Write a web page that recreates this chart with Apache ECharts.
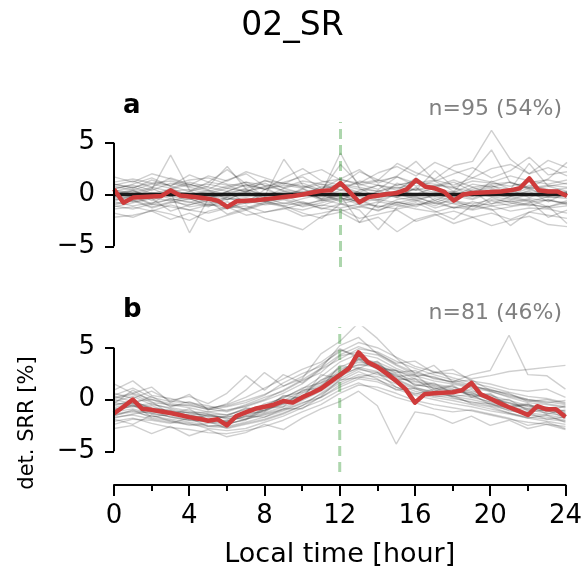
<!DOCTYPE html>
<html>
<head>
<meta charset="utf-8">
<script src="https://cdn.jsdelivr.net/npm/echarts@6/dist/echarts.min.js"></script>
<style>html,body{margin:0;padding:0;background:#fff}#c{width:585px;height:572px}</style>
</head>
<body>
<div id="c"></div>
<script>
// ---------- data ----------
const hoursHourly = [0,1,2,3,4,5,6,7,8,9,10,11,12,13,14,15,16,17,18,19,20,21,22,23,24];
const hoursHalf = [0,0.5,1,1.5,2,2.5,3,3.5,4,4.5,5,5.5,6,6.5,7,7.5,8,8.5,9,9.5,10,10.5,11,11.5,12,12.5,13,13.5,14,14.5,15,15.5,16,16.5,17,17.5,18,18.5,19,19.5,20,20.5,21,21.5,22,22.5,23,23.5,24];
const xTicks = [0,4,8,12,16,20,24];
const yTicks = [-5,0,5];
const noonLine = 12;
const panelA = {label:'a', note:'n=95 (54%)'};
const panelB = {label:'b', note:'n=81 (46%)'};

// mean (red) lines
const meanA = [0.5,-0.8,-0.3,-0.25,-0.2,-0.15,0.4,-0.1,-0.2,-0.3,-0.4,-0.6,-1.2,-0.65,-0.6,-0.55,-0.45,-0.35,-0.25,-0.15,0,0.2,0.35,0.4,1.1,0.2,-0.75,-0.25,-0.1,0.05,0.15,0.5,1.4,0.75,0.6,0.25,-0.6,0,0.15,0.2,0.25,0.3,0.4,0.6,1.55,0.4,0.3,0.3,-0.15];
const meanB = [-1.35,-0.7,0,-0.9,-1.0,-1.15,-1.3,-1.5,-1.7,-1.85,-2.05,-1.9,-2.5,-1.6,-1.25,-0.9,-0.7,-0.5,-0.15,-0.3,0.2,0.6,1.05,1.7,2.35,3.0,4.55,3.6,3.15,2.5,1.8,1.0,-0.3,0.5,0.6,0.65,0.7,0.9,1.6,0.5,0.1,-0.35,-0.75,-1.1,-1.5,-0.65,-0.95,-0.95,-1.7];
// flat stations (panel a)
const flatA = [0,0,0,0,0,0,0,0,0,0,0,0,0,0,0,0,0,0,0,0,0,0,0,0,0];

// individual stations (hourly)
const a01=[0.6,0.9,0.4,1.1,0.7,0.3,0.8,1.2,0.5,0.9,0.6,1.0,0.4,1.3,0.9,0.6,1.1,0.8,1.4,0.7,1.0,1.2,0.6,0.9,0.7];
const a02=[-0.7,-1.1,-0.8,-0.5,-1.2,-0.9,-1.4,-0.6,-1.0,-0.8,-1.1,-0.5,-0.9,-1.2,-0.7,-1.0,-0.6,-1.3,-0.8,-1.1,-0.9,-0.6,-1.0,-1.2,-0.8];
const a03=[1.2,1.5,1.1,0.9,1.4,1.6,1.0,0.8,1.3,1.1,0.7,1.2,1.5,0.9,1.3,1.7,1.1,1.4,0.9,1.6,1.2,1.8,1.3,1.0,1.4];
const a04=[-1.4,-1.2,-1.6,-1.0,-1.5,-1.8,-1.3,-1.1,-1.7,-1.4,-0.9,-1.3,-1.6,-1.2,-1.5,-1.0,-1.4,-1.7,-1.2,-1.5,-1.1,-1.6,-1.3,-1.4,-1.8];
const a05=[0.2,-0.3,0.5,3.8,0.4,-0.6,0.3,1.0,-0.2,0.6,0.1,-0.4,0.8,0.2,-0.5,0.4,1.6,0.3,-0.2,0.7,0.0,0.5,-0.3,0.4,0.1];
const a06=[-0.3,0.4,-0.6,0.2,-3.7,-0.4,0.3,-0.8,0.5,-0.2,0.6,-0.5,0.1,-0.9,0.4,-0.3,0.7,-0.6,0.2,-0.4,0.5,-0.1,0.3,-0.7,0.2];
const a07=[1.0,0.6,1.4,0.8,1.9,1.2,2.4,1.0,0.5,1.6,2.5,1.3,0.9,2.2,1.4,3.0,2.1,1.5,2.8,3.2,6.2,3.4,2.0,2.6,1.8];
const a08=[-2.2,-2.0,-1.6,-2.4,-1.8,-2.6,-2.0,-1.5,-2.3,-2.8,-3.4,-2.1,-1.7,-2.7,-2.2,-3.6,-2.4,-1.9,-2.8,-2.2,-3.0,-2.5,-2.1,-2.9,-3.1];
const a09=[0.4,0.0,0.6,-0.2,0.3,0.8,2.7,0.5,-0.1,3.4,0.9,0.2,4.0,0.6,-0.3,1.1,0.4,2.3,0.7,-0.2,1.3,0.5,3.0,0.8,0.3];
const a10=[-0.5,-0.1,-0.9,0.3,-0.4,-1.0,-0.2,0.4,-0.7,-0.3,0.2,-0.6,-0.1,-2.7,-0.8,0.1,-0.5,-1.1,-0.3,0.3,-0.9,-0.2,-0.6,-2.2,-1.5];
const a11=[0.9,1.3,0.7,1.6,1.0,0.5,1.4,2.0,0.8,1.2,1.7,0.6,1.5,2.4,1.1,1.8,3.2,1.3,2.0,2.6,1.6,2.3,3.6,1.9,2.2];
const a12=[-1.0,-0.6,-1.3,-0.8,-0.4,-1.1,-0.7,-1.5,-0.9,-0.5,-1.2,-0.8,-0.3,-1.0,-1.6,-0.7,-1.2,-0.4,-0.9,-1.4,-0.6,-1.1,-0.8,-0.5,-1.0];
const a13=[0.3,0.7,0.1,0.5,1.0,0.4,0.0,0.6,1.1,0.3,-0.1,0.8,0.5,0.2,0.9,0.4,0.0,0.7,1.2,0.3,0.6,0.1,0.9,0.5,0.2];
const a14=[-0.2,-0.6,0.1,-0.4,-0.8,-0.1,-0.5,0.2,-0.3,-0.9,-0.4,0.0,-0.7,-0.2,-0.6,0.1,-0.3,-0.8,-0.1,-0.5,0.2,-0.4,-0.7,-0.2,-0.4];
const a15=[1.7,1.2,2.0,1.5,0.9,1.8,1.3,2.2,1.6,1.0,1.9,2.4,1.4,1.1,2.1,2.7,1.8,3.1,2.3,1.6,2.5,2.9,2.0,3.3,2.6];
const a16=[-1.8,-2.2,-1.5,-1.9,-2.5,-1.6,-1.2,-2.0,-1.7,-1.3,-2.1,-1.8,-1.4,-2.3,-1.9,-1.5,-2.6,-2.0,-1.6,-2.2,-1.8,-2.4,-1.7,-2.0,-2.3];
const a17=[0.1,0.3,-0.2,0.4,0.0,-0.3,0.2,0.5,-0.1,0.3,0.0,-0.2,0.4,0.1,-0.3,0.2,0.5,-0.1,0.3,0.0,0.2,-0.2,0.4,0.1,-0.1];
const a18=[-0.1,-0.4,0.2,-0.2,-0.5,0.1,-0.3,-0.6,0.0,-0.2,0.3,-0.4,-0.1,-0.5,0.1,-0.3,-0.6,0.0,-0.4,0.2,-0.2,-0.5,0.0,-0.3,-0.2];
const a19=[0.8,0.4,1.0,0.6,1.2,0.7,0.3,0.9,0.5,1.1,0.8,0.4,1.0,0.7,0.3,0.9,1.3,0.6,0.2,1.0,0.7,1.2,0.5,0.8,1.1];
const a20=[-0.9,-0.5,-1.2,-0.7,-1.0,-0.4,-1.3,-0.8,-0.6,-1.1,-0.7,-1.4,-0.9,-0.5,-1.2,-0.8,-1.0,-0.6,-1.3,-0.7,-1.1,-0.9,-0.5,-1.2,-0.6];
const a21=[0.5,1.0,1.6,0.8,0.3,1.2,0.9,0.2,1.4,0.6,1.1,0.4,2.9,1.0,0.5,1.7,0.8,1.3,0.3,2.1,4.3,1.1,0.7,1.5,3.1];
const a22=[-1.2,-0.8,-0.4,-1.6,-1.0,-0.6,-1.9,-1.3,-0.7,-1.1,-1.8,-2.3,-0.9,-1.5,-3.4,-1.2,-0.8,-1.6,-2.4,-1.0,-1.4,-3.0,-1.7,-1.1,-2.8];
const a23=[0.4,0.2,0.7,0.3,0.5,0.1,0.6,0.3,0.8,0.4,0.2,0.6,0.9,0.5,0.3,0.7,0.4,0.9,0.6,0.3,0.8,0.5,0.7,0.4,0.6];
const a24=[-0.4,-0.7,-0.3,-0.6,-0.2,-0.8,-0.5,-0.3,-0.7,-0.4,-0.9,-0.6,-0.3,-0.7,-0.5,-0.8,-0.4,-0.2,-0.6,-0.9,-0.5,-0.7,-0.4,-0.6,-0.8];
const a25=[1.0,0.7,1.1,1.3,0.8,1.0,0.6,1.2,0.9,0.7,1.3,1.0,0.8,1.1,1.4,0.9,1.2,1.0,0.7,1.3,1.1,0.8,1.2,1.4,1.0];
const a26=[-1.1,-1.4,-0.9,-1.2,-1.5,-1.0,-1.1,-1.4,-0.8,-1.2,-1.5,-1.0,-1.3,-0.9,-1.1,-1.4,-1.0,-0.8,-1.3,-1.1,-1.5,-1.2,-0.9,-1.3,-1.1];
const a27=[0.0,0.5,-0.4,0.6,-0.1,0.4,-0.5,0.3,0.7,-0.3,0.5,0.1,-0.6,0.4,0.9,-0.2,0.6,0.2,-0.4,0.5,0.9,0.0,0.6,-0.2,0.3];
const a28=[-0.6,-0.2,-1.0,-0.4,-0.7,-1.2,-0.3,-0.9,-0.5,-0.1,-0.8,-1.1,-0.4,-0.6,-1.3,-0.5,-0.2,-0.9,-0.6,-1.2,-0.3,-0.8,-1.1,-0.5,-0.9];

const b01=[-0.2,0.3,-0.5,-0.8,-1.1,-1.4,-1.5,-1.0,-0.6,0.2,1.0,2.2,3.6,4.4,4.0,3.0,2.3,1.8,1.5,1.1,0.8,0.2,-0.3,-0.5,-0.8];
const b02=[-1.5,-1.2,-1.6,-1.9,-2.2,-2.5,-2.6,-2.2,-1.7,-1.1,-0.4,0.5,1.6,2.4,2.2,1.5,0.8,0.4,0.1,-0.2,-0.6,-1.0,-1.5,-1.7,-2.0];
const b03=[0.9,1.8,0.4,0.1,-0.4,-0.8,-0.6,-0.1,0.5,1.3,2.2,3.4,4.6,5.5,5.0,4.1,3.2,2.7,2.1,1.6,1.2,0.7,0.3,0.1,-0.3];
const b04=[-2.1,-1.8,-2.3,-2.7,-2.9,-3.2,-3.3,-3.0,-2.6,-2.0,-1.2,-0.5,0.6,1.4,1.2,0.6,-0.1,-0.5,-0.8,-1.1,-1.5,-1.9,-2.2,-2.4,-2.6];
const b05=[-0.6,-0.1,-0.9,-1.0,-1.6,-1.7,-2.2,-1.3,-1.2,-0.1,0.3,1.9,2.5,3.9,2.9,2.8,1.3,1.6,0.6,1.0,-0.1,0.0,-1.1,-0.7,-1.6];
const b06=[-1.0,-0.4,-1.3,-1.1,-1.9,-1.5,-1.8,-1.9,-0.8,-0.7,0.9,1.1,3.3,3.0,3.7,1.9,2.0,0.8,1.3,0.2,0.5,-0.7,-0.5,-1.4,-1.0];
const b07=[0.3,-0.2,0.0,-0.6,-0.5,-1.0,-0.7,-0.3,0.4,1.6,2.5,3.2,4.8,4.2,3.4,2.6,2.8,2.0,1.7,1.9,0.9,0.6,-0.2,0.0,-0.4];
const b08=[-1.8,-1.4,-1.1,-1.7,-2.0,-2.1,-2.8,-2.4,-2.0,-1.4,-0.6,0.6,1.8,2.7,2.0,0.9,1.1,0.3,0.4,-0.4,-0.7,-1.3,-1.8,-1.5,-2.2];
const b09=[1.5,0.6,1.2,-0.3,0.5,-1.0,-0.4,0.9,2.6,1.3,2.0,4.4,5.6,7.4,5.9,4.0,2.5,3.3,1.7,2.4,2.8,6.2,2.4,2.3,1.0];
const b10=[-2.8,-2.5,-3.3,-2.6,-3.5,-2.9,-3.6,-3.2,-2.4,-2.9,-1.8,-0.9,-0.2,0.8,-0.6,-4.3,-1.2,-1.5,-2.3,-1.6,-2.5,-2.0,-2.8,-2.4,-2.9];
const b11=[0.1,0.5,-0.3,-0.5,-0.8,-1.2,-1.0,-0.7,-0.1,0.6,1.5,2.9,3.9,4.9,4.6,3.7,3.0,2.4,1.9,1.4,0.8,0.3,-0.1,-0.4,-0.7];
const b12=[-1.2,-0.9,-1.4,-1.6,-1.9,-2.1,-2.0,-1.7,-1.3,-0.7,0.0,1.0,2.2,3.1,2.7,1.9,1.1,0.8,0.5,0.2,-0.2,-0.7,-1.0,-1.3,-1.6];
const b13=[-0.4,0.9,-0.2,-1.4,-0.9,-2.0,-1.6,-0.8,-1.1,0.4,0.1,2.4,2.0,4.1,3.1,2.2,2.4,1.0,1.4,0.3,0.6,-0.6,-0.4,-1.2,-0.6];
const b14=[-2.4,-1.9,-2.0,-2.3,-1.8,-2.6,-2.4,-1.9,-1.5,-1.0,-0.3,0.2,1.2,2.0,1.7,1.0,0.4,0.0,-0.4,-0.7,-1.1,-1.4,-1.8,-2.1,-2.4];
const b15=[0.6,0.1,0.8,-0.1,0.3,-0.4,0.6,2.3,0.9,2.4,1.6,3.0,5.2,6.0,4.4,3.5,3.7,2.6,2.9,1.8,1.5,1.0,0.8,1.0,0.2];
const b16=[-0.9,-0.7,-0.6,-1.3,-1.2,-1.6,-1.7,-1.4,-0.4,0.1,1.1,1.6,3.0,3.3,3.5,2.1,1.7,1.3,0.8,0.7,-0.1,-0.3,-0.9,-0.8,-1.2];
const b17=[-1.6,-1.0,-1.8,-2.0,-2.5,-2.3,-2.1,-1.6,-1.7,-0.9,-0.9,0.3,1.9,2.1,2.6,1.2,0.5,1.0,0.2,-0.3,-0.4,-1.1,-1.3,-1.9,-1.7];
const b18=[0.4,1.1,0.2,-0.2,-0.3,-0.6,-1.1,-0.5,0.2,0.8,1.8,2.6,4.2,4.6,4.3,3.3,2.4,2.2,1.6,1.2,1.0,0.4,0.0,-0.3,-0.1];
const b19=[-0.3,-0.6,-0.4,-0.9,-1.3,-1.2,-1.5,-0.9,-0.7,0.3,0.7,1.6,2.4,3.0,2.4,2.0,1.2,0.6,1.0,0.4,-0.3,-0.8,-0.5,-0.9,-1.4];
const b20=[-1.9,-2.4,-1.5,-2.1,-2.3,-2.8,-3.0,-2.8,-2.2,-1.6,-0.8,-0.1,0.9,1.6,0.9,0.2,-0.3,-0.9,-1.2,-1.0,-1.4,-1.8,-2.5,-2.2,-2.8];
const b21=[0.0,-0.4,0.3,-0.7,-0.2,-0.9,-0.5,0.2,1.1,2.0,2.9,3.6,4.9,4.0,3.1,2.8,2.2,2.6,2.5,2.0,2.3,2.7,2.9,3.1,3.3];
const b22=[-1.3,-0.5,-1.7,-1.4,-1.5,-1.9,-2.3,-2.0,-1.0,-0.4,0.4,0.9,2.6,3.8,3.0,2.4,1.4,1.2,0.3,0.5,-0.5,-0.8,-1.2,-1.0,-1.8];
const b23=[-1.0,-0.6,-1.1,-1.4,-1.6,-1.9,-2.1,-1.6,-1.1,-0.5,0.3,1.3,2.6,3.4,3.1,2.3,1.5,1.1,0.8,0.5,0.1,-0.4,-0.9,-1.1,-1.4];
const b24=[-0.5,-0.2,-0.8,-1.1,-1.3,-1.6,-1.7,-1.3,-0.8,-0.1,0.8,1.8,3.1,3.9,3.6,2.8,2.0,1.5,1.2,0.8,0.4,-0.1,-0.6,-0.8,-1.1];
const b25=[-1.4,-1.1,-1.3,-1.7,-2.0,-2.2,-2.4,-1.9,-1.4,-0.9,-0.1,0.8,2.0,2.9,2.6,1.7,1.0,0.6,0.3,0.0,-0.4,-0.9,-1.3,-1.5,-1.8];
const b26=[0.2,0.6,0.0,-0.4,-0.6,-0.9,-1.2,-0.6,0.0,0.9,1.9,3.0,4.3,5.1,4.5,3.4,2.6,2.1,1.7,1.3,0.9,0.5,0.0,-0.2,-0.5];
const b27=[-0.8,-0.3,-1.0,-1.2,-1.5,-1.4,-1.9,-1.5,-1.0,-0.4,0.6,1.4,2.8,3.6,3.3,2.5,1.8,1.4,1.0,0.6,0.2,-0.3,-0.7,-0.9,-1.3];
const b28=[-1.7,-1.5,-1.9,-2.2,-2.4,-2.6,-2.7,-2.3,-1.9,-1.3,-0.6,0.2,1.4,2.2,1.9,1.2,0.6,0.2,-0.1,-0.5,-0.9,-1.3,-1.7,-1.9,-2.1];

const stationsA=[a01,a02,a03,a04,a05,a06,a07,a08,a09,a10,a11,a12,a13,a14,a15,a16,a17,a18,a19,a20,a21,a22,a23,a24,a25,a26,a27,a28];
const stationsB=[b01,b02,b03,b04,b05,b06,b07,b08,b09,b10,b11,b12,b13,b14,b15,b16,b17,b18,b19,b20,b21,b22,b23,b24,b25,b26,b27,b28];

// ---------- chart ----------
const FONT = 'DejaVu Sans';
const pair = (xs, ys) => ys.map((v,i)=>[xs[i], v]);
const chart = echarts.init(document.getElementById('c'), null, {renderer:'canvas'});

const series = [];
function addPanel(idx, stations, mean, flat){
  stations.forEach(s => series.push({
    type:'line', xAxisIndex:idx, yAxisIndex:idx, data:pair(hoursHourly, s),
    symbol:'none', silent:true, z:1,
    lineStyle:{color:'rgba(0,0,0,0.19)', width:1.4}
  }));
  if (flat) series.push({
    type:'line', xAxisIndex:idx, yAxisIndex:idx, data:pair(hoursHourly, flat),
    symbol:'none', silent:true, z:2, lineStyle:{color:'rgba(10,10,10,0.92)', width:3.5}
  });
  series.push({
    type:'line', xAxisIndex:idx, yAxisIndex:idx,
    data:[[noonLine, -7],[noonLine, 7]],
    symbol:'none', silent:true, z:3,
    lineStyle:{color:'rgba(0,128,0,0.32)', width:3, type:[10,6]}
  });
  series.push({
    type:'line', xAxisIndex:idx, yAxisIndex:idx, data:pair(hoursHalf, mean),
    symbol:'none', silent:true, z:4, lineStyle:{color:'#cf3b3b', width:4.5, join:'round'}
  });
  // trimmed y spine from -5 to 5
  series.push({
    type:'line', xAxisIndex:idx, yAxisIndex:idx, clip:false,
    data:[[0, yTicks[0]],[0, yTicks[yTicks.length-1]]],
    symbol:'none', silent:true, z:5, lineStyle:{color:'#000', width:2}
  });
}
addPanel(0, stationsA, meanA, flatA);
addPanel(1, stationsB, meanB, null);

const yAxisCommon = {
  type:'value', min:-7, max:7,
  splitLine:{show:false},
  axisLine:{show:false},
  axisTick:{show:true, customValues:yTicks, length:9, lineStyle:{color:'#000', width:2}},
  axisLabel:{show:true, customValues:yTicks, fontFamily:FONT, fontSize:26, color:'#000', margin:19,
    formatter:v => String(v).replace('-', '\u2212')}
};

chart.setOption({
  animation:false,
  backgroundColor:'#fff',
  textStyle:{fontFamily:FONT},
  title:[
    {text:'02_SR', left:'center', top:5, textStyle:{fontFamily:FONT, fontSize:33, fontWeight:'normal', color:'#000'}},
    {text:panelA.label, left:118, top:88, textStyle:{fontFamily:FONT, fontSize:26, fontWeight:'bold', color:'#000'}},
    {text:panelA.note, right:18, top:93, textStyle:{fontFamily:FONT, fontSize:22, fontWeight:'normal', color:'#808080'}},
    {text:panelB.label, left:118, top:292, textStyle:{fontFamily:FONT, fontSize:26, fontWeight:'bold', color:'#000'}},
    {text:panelB.note, right:18, top:297, textStyle:{fontFamily:FONT, fontSize:22, fontWeight:'normal', color:'#808080'}}
  ],
  grid:[
    {left:114, top:122, width:453, height:145},
    {left:114, top:327, width:453, height:145}
  ],
  xAxis:[
    {type:'value', gridIndex:0, min:0, max:24, interval:4, show:false},
    {type:'value', gridIndex:1, min:0, max:24, interval:4, offset:13,
      splitLine:{show:false},
      axisLine:{show:true, onZero:false, lineStyle:{color:'#000', width:2}},
      axisTick:{show:true, length:11, lineStyle:{color:'#000', width:2}},
      minorTick:{show:true, splitNumber:2, length:6, lineStyle:{color:'#000', width:2}},
      axisLabel:{fontFamily:FONT, fontSize:26, color:'#000', margin:18,
        customValues:xTicks},
      name:'Local time [hour]', nameLocation:'middle', nameGap:56,
      nameTextStyle:{fontFamily:FONT, fontSize:27, color:'#000'}
    }
  ],
  yAxis:[
    Object.assign({gridIndex:0}, yAxisCommon),
    Object.assign({gridIndex:1}, yAxisCommon)
  ],
  graphic:[
    {type:'text', x:28, y:423, rotation:Math.PI/2,
      style:{text:'det. SRR [%]', fontFamily:FONT, fontSize:21, fill:'#000', align:'center', verticalAlign:'middle'}}
  ],
  series:series
});
</script>
</body>
</html>
